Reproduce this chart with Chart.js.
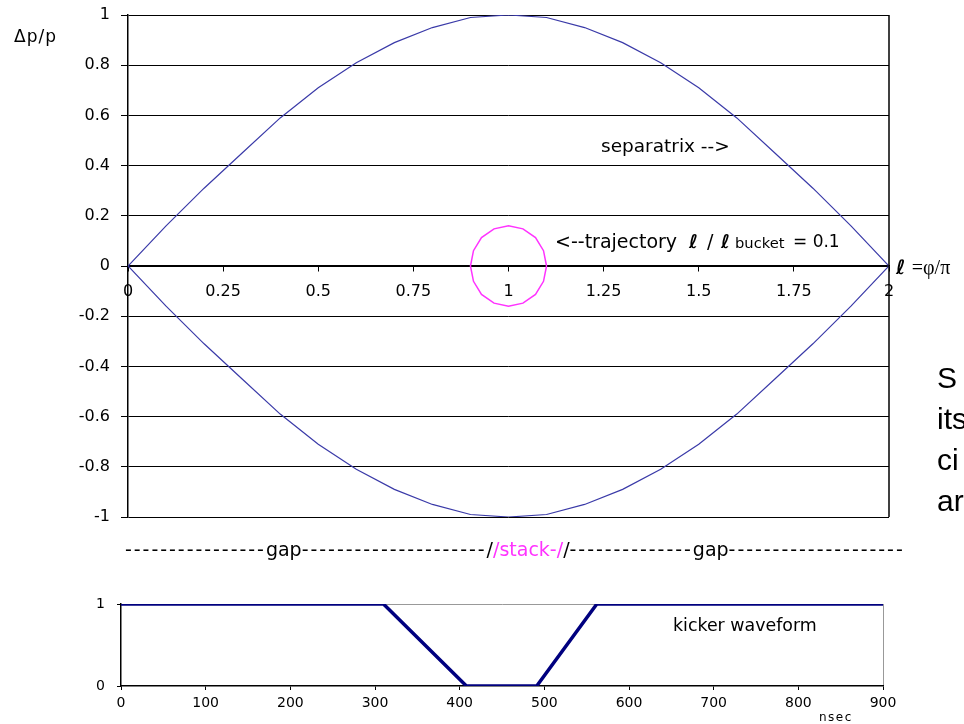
<!DOCTYPE html>
<html>
<head>
<meta charset="utf-8">
<script src="https://cdn.jsdelivr.net/npm/chart.js@4.4.0/dist/chart.umd.min.js"></script>
<style>
  html, body { margin: 0; padding: 0; background: #fff; overflow: hidden; }
  #wrap { position: relative; width: 964px; height: 724px; overflow: hidden; }
  canvas { position: absolute; left: 0; }
  .t { position: absolute; white-space: nowrap; line-height: 1.164; font-family: "DejaVu Sans", sans-serif; color: #000; }
  .d { letter-spacing: 1.95px; }
</style>
</head>
<body>
<div id="wrap">
  <canvas id="phase" width="964" height="540" style="top:0"></canvas>
  <canvas id="kick" width="964" height="134" style="top:590px"></canvas>

  <div class="t" style="left:14px;top:27px;font-size:17px;letter-spacing:1px">Δp/p</div>
  <div class="t" style="left:601px;top:135px;font-size:18.5px">separatrix --&gt;</div>
  <div class="t" style="left:555px;top:230px;font-size:19px">&lt;--trajectory</div>
  <div class="t" style="left:689px;top:230px;font-size:19px;font-weight:bold;font-style:italic">ℓ</div>
  <div class="t" style="left:707px;top:230px;font-size:19px">/</div>
  <div class="t" style="left:721px;top:230px;font-size:19px;font-weight:bold;font-style:italic">ℓ</div>
  <div class="t" style="left:735px;top:234px;font-size:14.7px">bucket</div>
  <div class="t" style="left:793px;top:232px;font-size:17px">= 0.1</div>
  <div class="t" style="left:896px;top:256px;font-size:20px"><span style="font-weight:bold;font-style:italic">ℓ</span> <span style="font-family:'Liberation Serif',serif">=φ/π</span></div>

  <div class="t" style="left:937px;top:357px;font-size:30px;line-height:41px;font-family:'Liberation Sans',Arial,sans-serif">S<br>its<br>ci<br>ar</div>

  <div class="t" style="left:125px;top:538px;font-size:19px"><span class="d">----------------</span>gap<span class="d">---------------------</span>/<span style="color:#ff33ff">/stack-/</span>/<span class="d">--------------</span>gap<span class="d">--------------------</span></div>

  <div class="t" style="left:673px;top:615px;font-size:17.4px">kicker waveform</div>
  <div class="t" style="left:819px;top:711px;font-size:12px;letter-spacing:1.5px">nsec</div>
</div>

<script>
// phase l = phi/pi, separatrix dp/p
const phaseL   = [0, 0.1, 0.2, 0.3, 0.4, 0.5, 0.6, 0.7, 0.8, 0.9, 1, 1.1, 1.2, 1.3, 1.4, 1.5, 1.6, 1.7, 1.8, 1.9, 2];
const sepUpper = [0, 0.16, 0.31, 0.45, 0.59, 0.71, 0.81, 0.89, 0.95, 0.99, 1, 0.99, 0.95, 0.89, 0.81, 0.71, 0.59, 0.45, 0.31, 0.16, 0];
const sepLower = [0, -0.16, -0.31, -0.45, -0.59, -0.71, -0.81, -0.89, -0.95, -0.99, -1, -0.99, -0.95, -0.89, -0.81, -0.71, -0.59, -0.45, -0.31, -0.16, 0];

// small trajectory around the bucket centre
const trajL = [1.1, 1.092, 1.071, 1.038, 1, 0.962, 0.929, 0.908, 0.9, 0.908, 0.929, 0.962, 1, 1.038, 1.071, 1.092, 1.1];
const trajP = [0, 0.061, 0.113, 0.148, 0.16, 0.148, 0.113, 0.061, 0, -0.061, -0.113, -0.148, -0.16, -0.148, -0.113, -0.061, 0];

// kicker waveform (nsec, amplitude)
const kickT = [0, 310, 408, 491, 562, 900];
const kickV = [1, 1, 0, 0, 1, 1];

const pts = (xs, ys) => xs.map((x, i) => ({ x: x, y: ys[i] }));
const fmt = v => String(Math.round(v * 100) / 100);

const rightBorder = {
  id: 'rightBorder',
  afterDatasetsDraw(chart, args, opts) {
    const { ctx, chartArea } = chart;
    ctx.save();
    ctx.strokeStyle = opts.color;
    ctx.lineWidth = opts.width;
    ctx.beginPath();
    ctx.moveTo(chartArea.right, chartArea.top);
    ctx.lineTo(chartArea.right, chartArea.bottom);
    ctx.stroke();
    ctx.restore();
  }
};

new Chart(document.getElementById('phase'), {
  type: 'scatter',
  data: {
    datasets: [
      { data: pts(phaseL, sepUpper), showLine: true, borderColor: '#3a3aa8', borderWidth: 1.2, pointRadius: 0 },
      { data: pts(phaseL, sepLower), showLine: true, borderColor: '#3a3aa8', borderWidth: 1.2, pointRadius: 0 },
      { data: pts(trajL, trajP), showLine: true, borderColor: '#ff33ff', borderWidth: 1.5, pointRadius: 0 }
    ]
  },
  options: {
    responsive: false,
    animation: false,
    layout: { padding: { left: 0, top: 15, right: 75, bottom: 23 } },
    plugins: { legend: { display: false }, tooltip: { enabled: false }, rightBorder: { color: '#000', width: 1.5 } },
    scales: {
      x: {
        type: 'linear', min: 0, max: 2,
        position: { y: 0 },
        ticks: { stepSize: 0.25, color: '#000', padding: 11, maxRotation: 0, callback: fmt, font: { family: 'DejaVu Sans', size: 16 } },
        grid: { drawOnChartArea: false, drawTicks: true, tickLength: 5, color: '#000' },
        border: { color: '#000', width: 1.5 }
      },
      y: {
        min: -1, max: 1,
        ticks: { stepSize: 0.2, color: '#000', padding: 11, callback: fmt, font: { family: 'DejaVu Sans', size: 16 } },
        grid: { color: '#000', lineWidth: 1, tickLength: 7 },
        border: { color: '#000', width: 1.5 },
        afterFit(s) { s.width = 128; s.paddingTop = 0; s.paddingBottom = 0; }
      }
    }
  },
  plugins: [rightBorder]
});

new Chart(document.getElementById('kick'), {
  type: 'scatter',
  data: {
    datasets: [
      { data: pts(kickT, kickV), showLine: true, borderColor: '#00007f', borderWidth: 3.5, pointRadius: 0 }
    ]
  },
  options: {
    responsive: false,
    animation: false,
    layout: { padding: { left: 0, top: 14, right: 81, bottom: 0 } },
    plugins: { legend: { display: false }, tooltip: { enabled: false } },
    scales: {
      x: {
        type: 'linear', min: 0, max: 900,
        ticks: { stepSize: 100, color: '#000', padding: 5, maxRotation: 0, font: { family: 'DejaVu Sans', size: 14 } },
        grid: {
          color: c => (c.tick && c.tick.value === 900 ? '#999' : 'rgba(0,0,0,0)'),
          tickColor: '#000', tickLength: 4
        },
        border: { color: '#000', width: 1.5 },
        afterFit(s) { s.height = 38; }
      },
      y: {
        min: 0, max: 1,
        ticks: { stepSize: 1, color: '#000', padding: 12, font: { family: 'DejaVu Sans', size: 14 } },
        grid: {
          color: c => (c.tick && c.tick.value === 1 ? '#999' : 'rgba(0,0,0,0)'),
          tickColor: '#000', tickLength: 4
        },
        border: { color: '#000', width: 1.5 },
        afterFit(s) { s.width = 121; s.paddingTop = 0; s.paddingBottom = 0; }
      }
    }
  }
});
</script>
</body>
</html>
